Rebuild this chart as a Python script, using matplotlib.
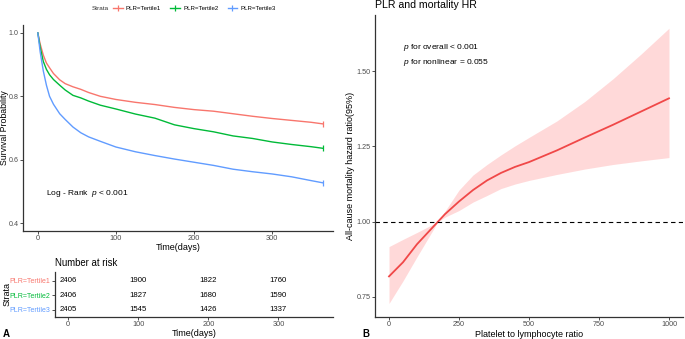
import numpy as np
import matplotlib.pyplot as plt
from matplotlib.lines import Line2D

plt.rcParams['font.family'] = ['Liberation Sans', 'DejaVu Sans']
plt.rcParams['mathtext.fontset'] = 'custom'
plt.rcParams['mathtext.it'] = 'Liberation Sans:italic'
plt.rcParams['mathtext.rm'] = 'Liberation Sans'

# Kaplan-Meier curves
days = [0, 3, 7, 11, 15, 20, 28, 35, 45, 55, 65, 80, 100, 125, 150, 175,
        200, 225, 250, 275, 300, 325, 350, 365]
surv_t1 = [1.0, 0.965, 0.93, 0.905, 0.89, 0.872, 0.852, 0.84, 0.83, 0.822, 0.812, 0.8,
           0.79, 0.781, 0.774, 0.765, 0.758, 0.753, 0.745, 0.737, 0.73, 0.724, 0.718, 0.713]
surv_t2 = [1.0, 0.955, 0.91, 0.885, 0.868, 0.853, 0.835, 0.82, 0.803, 0.795, 0.785, 0.772,
           0.76, 0.744, 0.731, 0.71, 0.698, 0.688, 0.675, 0.667, 0.656, 0.648, 0.641, 0.636]
surv_t3 = [1.0, 0.94, 0.88, 0.835, 0.8, 0.775, 0.745, 0.727, 0.703, 0.685, 0.672, 0.658,
           0.64, 0.625, 0.613, 0.602, 0.592, 0.582, 0.57, 0.562, 0.555, 0.546, 0.534, 0.527]
strata = ['PLR=Tertile1', 'PLR=Tertile2', 'PLR=Tertile3']
strata_cols = ['#F8766D', '#00BA38', '#619CFF']

# number at risk table
risk_times = [0, 100, 200, 300]
risk_t1 = [2406, 1900, 1822, 1760]
risk_t2 = [2406, 1827, 1680, 1590]
risk_t3 = [2405, 1545, 1426, 1337]

# restricted cubic spline HR
plr = [0, 50, 100, 150, 175, 200, 250, 300, 350, 400, 450, 500, 600, 700, 800, 900, 1000]
hr = [0.818, 0.865, 0.925, 0.975, 1.0, 1.025, 1.067, 1.105, 1.137, 1.162, 1.182, 1.198,
      1.237, 1.28, 1.322, 1.366, 1.41]
hr_upper = [0.917, 0.941, 0.964, 0.988, 1.0, 1.035, 1.105, 1.155, 1.19, 1.222, 1.252, 1.28,
            1.335, 1.40, 1.475, 1.557, 1.643]
hr_lower = [0.728, 0.803, 0.883, 0.961, 1.0, 1.015, 1.037, 1.065, 1.087, 1.11, 1.125, 1.137,
            1.157, 1.175, 1.19, 1.202, 1.213]

W, H = 685, 339
fig = plt.figure(figsize=(W / 100, H / 100), dpi=100)

def px_axes(l, t, r, b):
    # axes box from pixel edges
    return fig.add_axes([l / W, 1 - b / H, (r - l) / W, (b - t) / H])

def style_axes(ax):
    for s in ['top', 'right']:
        ax.spines[s].set_visible(False)
    for s in ['left', 'bottom']:
        ax.spines[s].set_color('#333333')
        ax.spines[s].set_linewidth(0.9)
    ax.tick_params(colors='#333333', labelcolor='#4D4D4D', labelsize=5.3,
                   length=2.0, width=0.6, pad=1.2)

# ---- A: survival curves
ax1 = px_axes(23, 25, 333, 231)
for s, c in zip([surv_t1, surv_t2, surv_t3], strata_cols):
    ax1.plot(days, s, color=c, lw=1.0)
    ax1.plot(days[-1], s[-1], marker='|', color=c, ms=5, mew=0.9)
ax1.set_xlim(-19, 378)
ax1.set_ylim(0.375, 1.025)
ax1.set_xticks([0, 100, 200, 300])
ax1.set_yticks([0.4, 0.6, 0.8, 1.0])
ax1.set_yticklabels(['0.4', '0.6', '0.8', '1.0'])
style_axes(ax1)
ax1.tick_params(axis='y', labelsize=5.1)
ax1.set_xlabel('Time(days)', fontsize=6.5, labelpad=0.5)
ax1.set_ylabel('Survival Probability', fontsize=6.3)
ax1.yaxis.set_label_coords(-0.0455, 0.5)
ax1.text(11, 0.492, 'Log - Rank  $\\it{p}$ < 0.001', fontsize=6, va='center')

# legend on top
fig.text(92 / W, 1 - 8.5 / H, 'Strata', fontsize=4.6, va='center', ha='left', color='#333333')
handles = [Line2D([0], [0], color=c, lw=1.0, marker='|', ms=5, mew=0.9) for c in strata_cols]
fig.legend(handles, strata, loc='center left', bbox_to_anchor=(113 / W, 1 - 8.5 / H), ncol=3,
           frameon=False, fontsize=4.4, handlelength=1.6, handletextpad=0.5,
           columnspacing=1.5, borderaxespad=0, borderpad=0)

# ---- risk table
ax2 = px_axes(55, 272, 333, 317)
rows = [3, 2, 1]
for y, vals in zip(rows, [risk_t1, risk_t2, risk_t3]):
    for t, v in zip(risk_times, vals):
        ax2.text(t, y, str(v), fontsize=5.6, ha='center', va='center', color='black')
ax2.set_xlim(-19, 378)
ax2.set_ylim(0.52, 3.59)
ax2.set_xticks([0, 100, 200, 300])
ax2.set_yticks(rows)
ax2.set_yticklabels(strata)
style_axes(ax2)
ax2.tick_params(axis='y', labelsize=5.0)
for lab, c in zip(ax2.get_yticklabels(), strata_cols):
    lab.set_color(c)
ax2.set_xlabel('Time(days)', fontsize=6.5, labelpad=0.5)
ax2.set_ylabel('Strata', fontsize=6.5)
ax2.yaxis.set_label_coords(-0.158, 0.5)
ax2.set_title('Number at risk', fontsize=6.9, loc='left', pad=4)
fig.text(3 / W, 1 - 334 / H, 'A', fontsize=7, fontweight='bold', va='center')

# ---- B: RCS hazard ratio
ax3 = px_axes(375, 15, 683, 317)
ax3.fill_between(plr, hr_lower, hr_upper, color='#FF3030', alpha=0.18, lw=0)
ax3.plot(plr, hr, color='#F04848', lw=1.3)
ax3.axhline(1.0, color='black', lw=0.8, ls=(0, (4, 3)))
ax3.set_xlim(-50, 1050)
ax3.set_ylim(0.683, 1.687)
ax3.set_xticks([0, 250, 500, 750, 1000])
ax3.set_yticks([0.75, 1.0, 1.25, 1.5])
ax3.set_yticklabels(['0.75', '1.00', '1.25', '1.50'])
style_axes(ax3)
ax3.tick_params(labelsize=5.2)
ax3.set_xlabel('Platelet to lymphocyte ratio', fontsize=6.5, labelpad=1)
ax3.set_ylabel('All-cause mortality hazard ratio(95%)', fontsize=6.5, labelpad=1)
ax3.set_title('PLR and mortality HR', fontsize=7.6, loc='left', pad=5)
ax3.text(50, 1.58, '$\\it{p}$ for overall < 0.001', fontsize=6, va='center')
ax3.text(50, 1.53, '$\\it{p}$ for nonlinear = 0.055', fontsize=6, va='center')
fig.text(362 / W, 1 - 334 / H, 'B', fontsize=7, fontweight='bold', va='center')

fig.savefig('out.png', dpi=100)
